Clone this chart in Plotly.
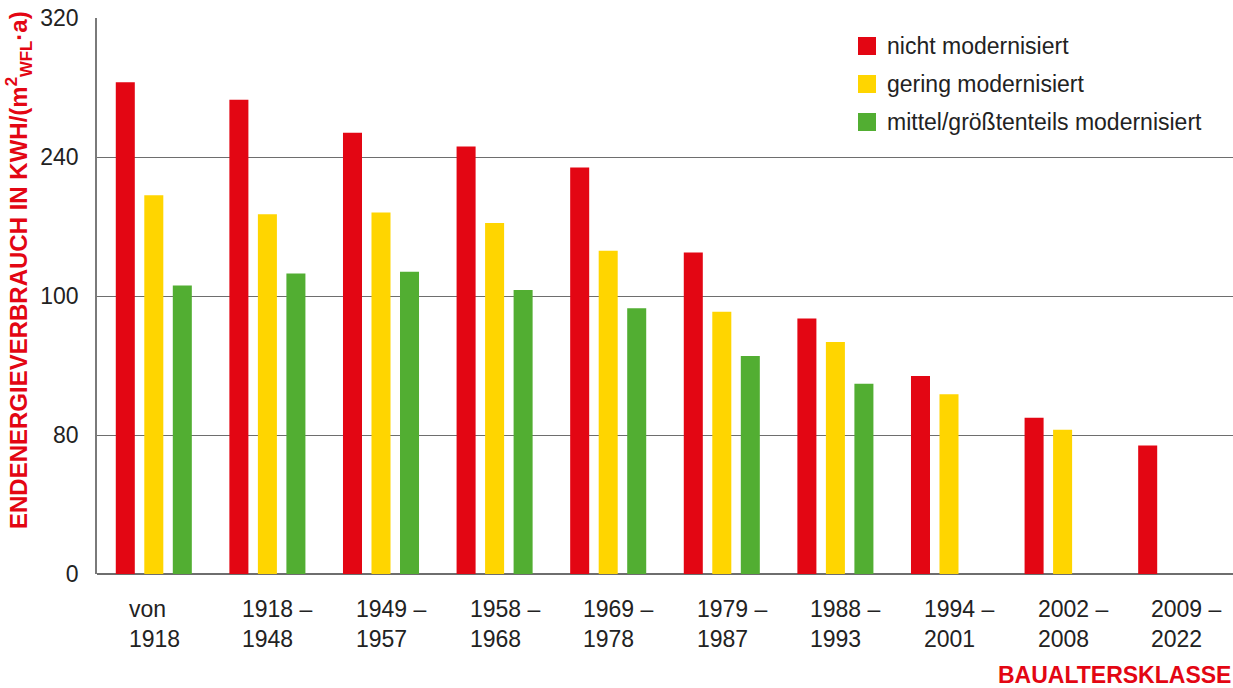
import plotly.graph_objects as go

categories = ["von<br>1918", "1918 –<br>1948", "1949 –<br>1957", "1958 –<br>1968",
              "1969 –<br>1978", "1979 –<br>1987", "1988 –<br>1993", "1994 –<br>2001",
              "2002 –<br>2008", "2009 –<br>2022"]
cat_keys = ["c%d" % i for i in range(len(categories))]

series_names = ["nicht modernisiert", "gering modernisiert", "mittel/größtenteils modernisiert"]
nicht = [283, 273, 254, 246, 234, 185, 147, 114, 90, 74]
gering = [218, 207, 208, 202, 186, 151, 133.5, 103.5, 83, None]
mittel = [166, 173, 174, 163.5, 153, 125.5, 109.5, None, None, None]
series_values = [nicht, gering, mittel]
colors = ["#e30613", "#ffd500", "#52ae32"]

tick_vals = [0, 80, 160, 240, 320]
tick_text = ["0", "80", "100", "240", "320"]

W, H = 1233, 688
ml, mr, mt, mb = 97, 0, 18, 114
pw, ph = W - ml - mr, H - mt - mb

def px_x(x):
    return (x - ml) / pw

def px_y(y):
    return (H - mb - y) / ph

FONT = "Liberation Sans, Arial, sans-serif"
TXT = "#222222"

fig = go.Figure()
for name, vals, col in zip(series_names, series_values, colors):
    fig.add_trace(go.Bar(x=cat_keys, y=vals, name=name, marker_color=col,
                         marker_line_width=0, showlegend=False))

annotations = []
shapes = []
# category labels (left aligned, two lines)
for key, lab in zip(cat_keys, categories):
    annotations.append(dict(x=key, xref="x", y=0, yref="paper", text=lab,
                            showarrow=False, xanchor="left", yanchor="top",
                            align="left", xshift=-27, yshift=-20,
                            font=dict(family=FONT, size=23, color=TXT)))

# legend
legend_centers = [46, 84, 122]
for name, col, cy in zip(series_names, colors, legend_centers):
    shapes.append(dict(type="rect", xref="paper", yref="paper",
                       x0=px_x(858), x1=px_x(876), y0=px_y(cy + 9), y1=px_y(cy - 9),
                       fillcolor=col, line_width=0))
    annotations.append(dict(x=px_x(885), xref="paper", y=px_y(cy), yref="paper",
                            text=name, showarrow=False, xanchor="left", yanchor="middle",
                            font=dict(family=FONT, size=23, color=TXT)))

# y axis title
annotations.append(dict(x=0, xref="paper", y=px_y(270), yref="paper",
                        text="ENDENERGIEVERBRAUCH IN KWH/(m<sup>2</sup><sub>WFL</sub>·a)",
                        textangle=-90, showarrow=False, xanchor="center", yanchor="middle",
                        xshift=-78,
                        font=dict(family=FONT, size=24, color="#e30613", weight="bold")))
# x axis title
annotations.append(dict(x=1, xref="paper", y=0, yref="paper", text="BAUALTERSKLASSE",
                        showarrow=False, xanchor="right", yanchor="top",
                        xshift=0, yshift=-86,
                        font=dict(family=FONT, size=23, color="#e30613", weight="bold")))

fig.update_layout(
    width=W, height=H,
    margin=dict(l=ml, r=mr, t=mt, b=mb, pad=0),
    paper_bgcolor="white", plot_bgcolor="white",
    barmode="group", bargap=0.247, bargroupgap=0.333,
    showlegend=False,
    annotations=annotations, shapes=shapes,
    xaxis=dict(type="category", categoryorder="array", categoryarray=cat_keys,
               range=[-0.5, len(cat_keys) - 0.5], showticklabels=False,
               showgrid=False, zeroline=False, showline=False, ticks=""),
    yaxis=dict(range=[0, 320], tickvals=tick_vals, ticktext=tick_text,
               showgrid=True, gridcolor="#6e6e6e", gridwidth=1,
               zeroline=True, zerolinecolor="#6e6e6e", zerolinewidth=1.5,
               showline=True, linecolor="#7a7a7a", linewidth=1.5,
               ticks="", ticklabelstandoff=12,
               tickfont=dict(family=FONT, size=23, color=TXT)),
)

fig.write_html("out.html")
